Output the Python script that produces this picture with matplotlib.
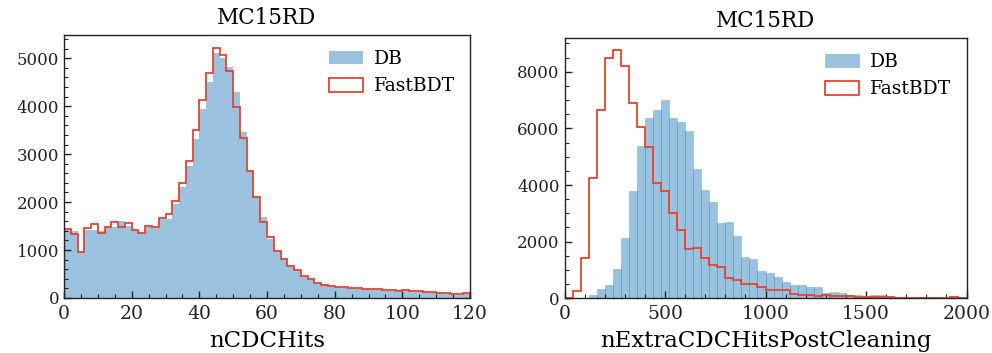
import numpy as np
import matplotlib
matplotlib.use("Agg")
import matplotlib.pyplot as plt
from matplotlib.ticker import MultipleLocator

plt.rcParams["font.family"] = ["DejaVu Serif"]

# nCDCHits: 60 bins of width 2 on [0, 120]
ncdc_edges = np.arange(0, 122, 2)
ncdc_db = [1437, 1403, 960, 1410, 1410, 1403, 1479, 1479, 1597, 1493,
           1410, 1361, 1479, 1465, 1653, 1653, 1965, 2313, 2743, 3306,
           3931, 4500, 5104, 5007, 4806, 4292, 3451, 2653, 2097, 1681,
           1222, 972, 799, 681, 563, 438, 382, 299, 264, 229,
           220, 210, 200, 190, 180, 170, 165, 155, 145, 135,
           145, 135, 125, 115, 105, 95, 90, 70, 70, 85]
ncdc_fbdt = [1431, 1326, 958, 1451, 1535, 1361, 1486, 1583, 1486, 1569,
             1410, 1361, 1500, 1486, 1667, 1750, 2028, 2396, 2854, 3507,
             4132, 4694, 5222, 5056, 4729, 3986, 3340, 2653, 2097, 1590,
             1271, 972, 813, 660, 576, 458, 396, 313, 271, 243,
             235, 225, 215, 205, 195, 190, 185, 170, 160, 150,
             165, 150, 140, 125, 120, 110, 100, 80, 80, 100]

# nExtraCDCHitsPostCleaning: 50 bins of width 40 on [0, 2000]
extra_edges = np.arange(0, 2040, 40)
extra_db = [0, 0, 0, 106, 341, 470, 1047, 2141, 3800, 5388,
            6365, 6659, 7012, 6376, 6235, 5918, 4576, 3835, 3412, 2671,
            2706, 2212, 1471, 1376, 976, 894, 765, 576, 482, 482,
            412, 412, 188, 235, 200, 110, 110, 30, 130, 100,
            60, 0, 40, 0, 40, 40, 0, 0, 0, 0]
extra_fbdt = [0, 247, 1412, 4235, 6635, 8494, 8753, 8188, 6894, 6059,
              5353, 4059, 3776, 3012, 2400, 1753, 1776, 1412, 1165, 1094,
              718, 635, 506, 518, 388, 294, 294, 294, 165, 106,
              129, 71, 106, 71, 80, 70, 60, 50, 40, 40,
              30, 20, 20, 20, 10, 10, 10, 20, 40, 10]

title = "MC15RD"
db_color = "C0"
fbdt_color = "#e5432f"

fig = plt.figure(figsize=(9.92, 3.53), dpi=100)
W, H = 992, 353


def px_axes(x0, y0, x1, y1):
    return fig.add_axes([x0 / W, (H - y1) / H, (x1 - x0) / W, (y1 - y0) / H])


ax1 = px_axes(64, 35, 470, 298)
ax2 = px_axes(564.5, 38, 966.5, 298.3)


def draw(ax, edges, db, fbdt, xlabel, xmaj, xmin, ymaj, ymin, edge_lw):
    edges = np.asarray(edges, dtype=float)
    centers = 0.5 * (edges[:-1] + edges[1:])
    ax.hist(centers, bins=edges, weights=db, color=db_color, alpha=0.45,
            edgecolor=db_color, linewidth=edge_lw, label="DB")
    ax.hist(centers, bins=edges, weights=fbdt, histtype="step",
            color=fbdt_color, linewidth=1.3, label="FastBDT")
    ax.set_xlim(edges[0], edges[-1])
    ax.set_title(title, fontsize=15.5, pad=8)
    ax.set_xlabel(xlabel, fontsize=16.5, labelpad=5)
    ax.xaxis.set_major_locator(MultipleLocator(xmaj))
    ax.xaxis.set_minor_locator(MultipleLocator(xmin))
    ax.yaxis.set_major_locator(MultipleLocator(ymaj))
    ax.yaxis.set_minor_locator(MultipleLocator(ymin))
    ax.tick_params(which="both", direction="in",
                   color="#222222", labelcolor="#222222")
    ax.tick_params(axis="x", labelsize=13.5, pad=5)
    ax.tick_params(axis="y", labelsize=12)
    ax.tick_params(which="major", length=5, width=1)
    ax.tick_params(which="minor", length=2.7, width=0.8)
    for sp in ax.spines.values():
        sp.set_color("#222222")
        sp.set_linewidth(1.0)
    ax.legend(loc="upper right", frameon=False, fontsize=13.5,
              handlelength=1.8, handleheight=0.75, handletextpad=0.6,
              borderaxespad=0.4)


draw(ax1, ncdc_edges, ncdc_db, ncdc_fbdt, "nCDCHits", 20, 5, 1000, 200, 0.0)
draw(ax2, extra_edges, extra_db, extra_fbdt, "nExtraCDCHitsPostCleaning",
     500, 100, 2000, 500, 0.4)

fig.savefig("out.png", dpi=100)
